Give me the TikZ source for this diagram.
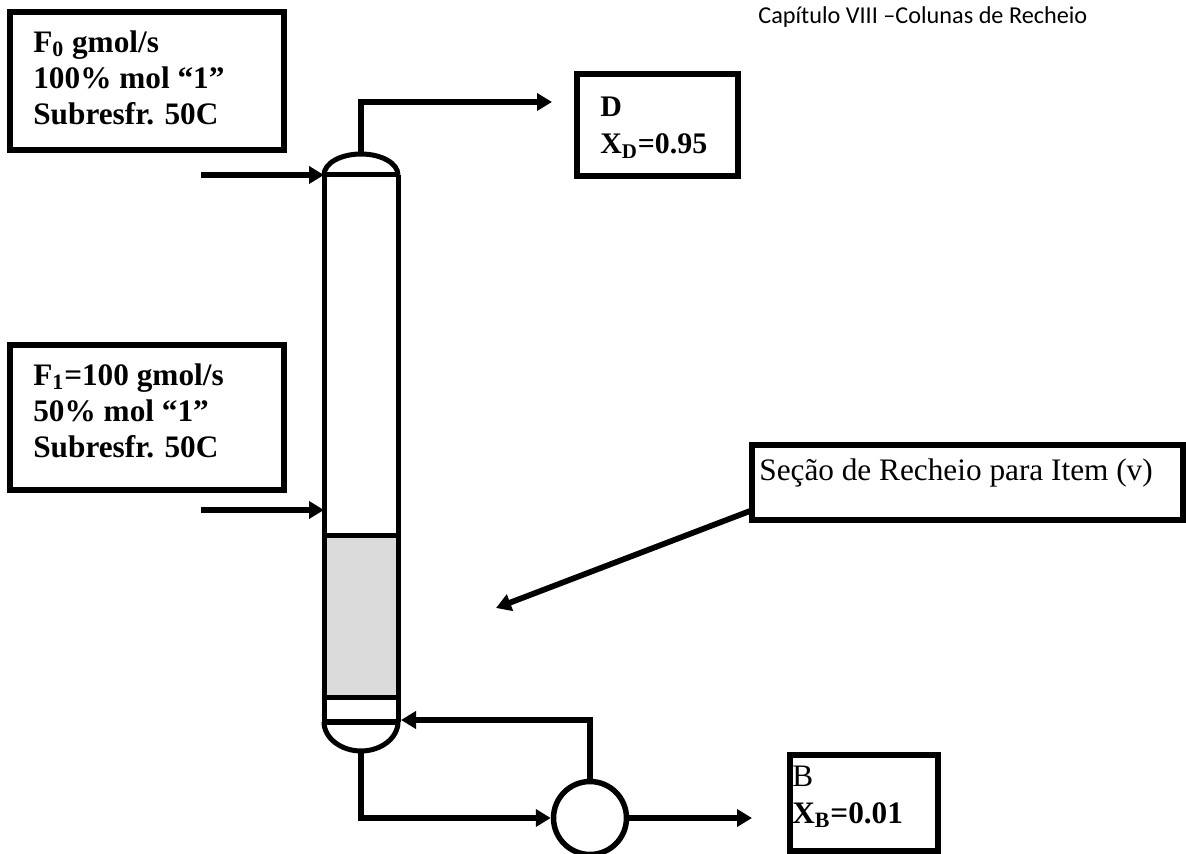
\documentclass[tikz,border=0pt]{standalone}
\usepackage{fontspec}
\usetikzlibrary{arrows.meta}
\setmainfont{Liberation Serif}
\newfontfamily\headfont{Carlito}
\tikzset{
  flowline/.style={line width=0.1cm},
  flowarrow/.style={-{Triangle[length=0.3cm,width=0.34cm]},line width=0.115cm},
  infobox/.style={draw=black,line width=0.11cm,fill=white},
  infotext/.style={font=\fontsize{17.8}{20.6}\selectfont\bfseries,align=left,anchor=north west,inner sep=0pt}
}
\begin{document}
\begin{tikzpicture}[x=0.02cm,y=-0.02cm]
  \useasboundingbox (0,0) rectangle (1186,854);
  % column shell
  \coordinate (coltl) at (324,175);
  \coordinate (coltr) at (398,175);
  \coordinate (colbl) at (324,722);
  \coordinate (colbr) at (398,722);
  \fill[black!14] (324,535) rectangle (398,697);
  \draw[flowline] (coltl)--(colbl) (coltr)--(colbr) (coltl)--(coltr);
  \draw[flowline] (324,535)--(398,535) (324,697)--(398,697);
  \draw[line width=0.13cm] (colbl)--(colbr);
  \draw[flowline] (coltl) .. controls (324,163) and (341,154) .. (361,154)
    coordinate (captop) .. controls (381,154) and (398,163) .. (coltr);
  \draw[flowline] (colbl) .. controls (324,738) and (341,751) .. (361,751)
    coordinate (capbot) .. controls (381,751) and (398,738) .. (colbr);
  % reboiler
  \node[draw,line width=0.11cm,circle,minimum size=1.46cm,inner sep=0pt] (reboiler) at (590,818) {};
  % boxes
  \draw[infobox] (10,12) rectangle (284,150);
  \node[infotext] (feedzero) at (33,30) {F\textsubscript{0} gmol/s\\100\% mol ``1''\\Subresfr. 50C};
  \draw[infobox] (10,345) rectangle (284,490);
  \node[infotext] (feedone) at (33,363) {F\textsubscript{1}=100 gmol/s\\50\% mol ``1''\\Subresfr. 50C};
  \draw[infobox] (577,74) rectangle (738,176);
  \node[infotext,font=\fontsize{17}{21}\selectfont\bfseries] (dist) at (600,97) {D\\X\textsubscript{D}=0.95};
  \draw[infobox] (790,755) rectangle (938,851);
  \node[infotext,font=\fontsize{17.8}{20.6}\selectfont] (bott) at (792,766) {B\\\textbf{X\textsubscript{B}=0.01}};
  \draw[infobox] (752,445) rectangle (1183,520);
  \node[font=\fontsize{17.8}{22}\selectfont,anchor=base west,inner sep=0pt] (secao) at (759,480) {Seção de Recheio para Item (v)};
  \node[font=\fontsize{13.8}{17}\selectfont\headfont,anchor=base west,inner sep=0pt] (chapter) at (758,24) {Capítulo VIII –Colunas de Recheio};
  % streams
  \coordinate (feedzeroin) at (201,175);
  \coordinate (feedonein) at (201,510);
  \coordinate (distend) at (552,102);
  \draw[flowarrow] (feedzeroin)--(coltl);
  \draw[flowarrow] (feedonein)--(324,510);
  \draw[flowarrow] (captop)--(361,102)--(distend);
  \draw[flowarrow] (capbot)--(361,818)--(reboiler.west);
  \draw[flowarrow] (reboiler.north)--(590,720)--(401,720);
  \draw[flowarrow] (reboiler.east)--(752,818);
  \draw[flowarrow] (750,511)--(496,608);
\end{tikzpicture}
\end{document}
